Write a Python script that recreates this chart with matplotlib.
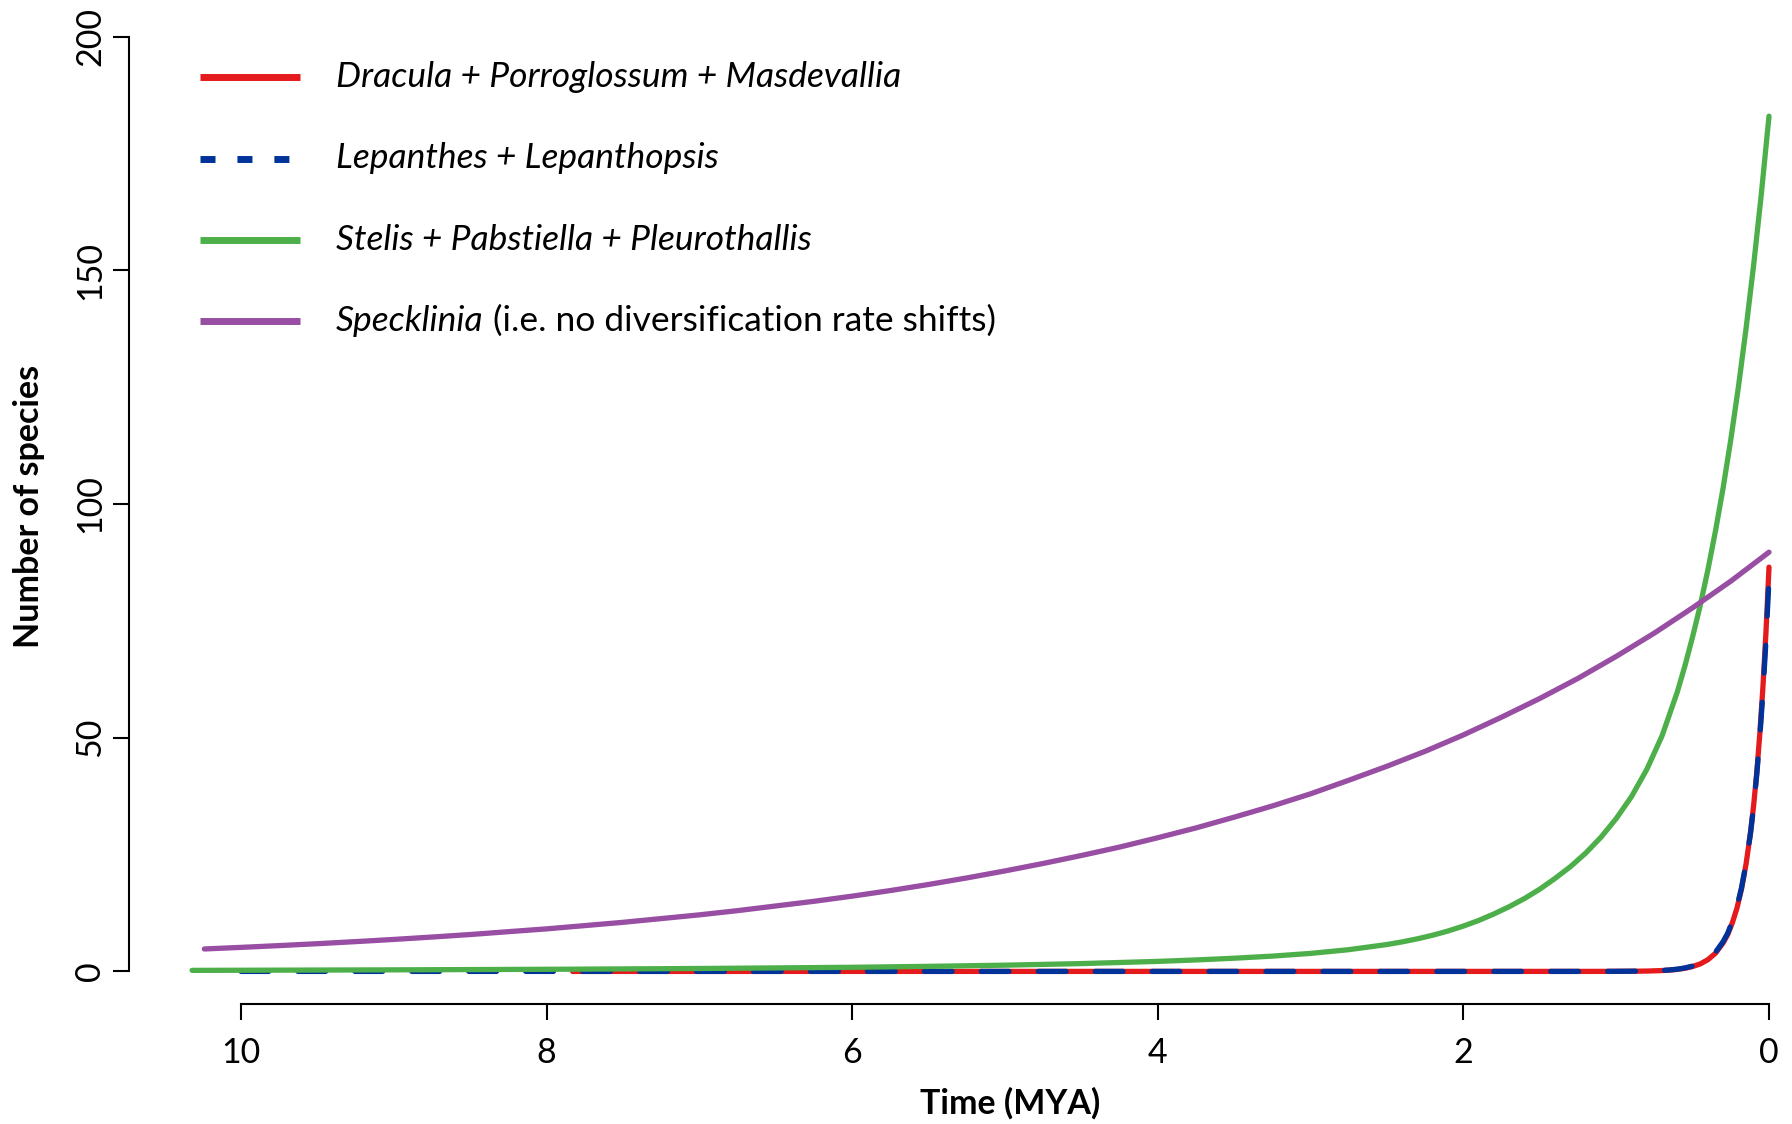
import matplotlib
matplotlib.use("Agg")
import matplotlib.pyplot as plt
from matplotlib.lines import Line2D

W, H = 1792, 1124
plt.rcParams["font.family"] = ["Lato", "DejaVu Sans"]
plt.rcParams["lines.scale_dashes"] = False

# ---- data: expected number of species through time (million years ago) ----
red_time = [7.83, 7.0, 6.0, 5.0, 4.0, 3.0, 2.0, 1.5, 1.2, 1.0, 0.9, 0.8, 0.7,
            0.65, 0.6, 0.55, 0.5, 0.45, 0.4, 0.35, 0.3, 0.27, 0.24, 0.21, 0.18,
            0.15, 0.12, 0.1, 0.08, 0.06, 0.04, 0.02, 0.0]
red_n = [0.0, 0.0, 0.0, 0.0, 0.0, 0.0, 0.0, 0.0, 0.0, 0.01, 0.03, 0.07, 0.18,
         0.28, 0.43, 0.67, 1.04, 1.6, 2.5, 3.9, 6.1, 7.9, 10.4, 13.5, 17.6,
         23.0, 29.9, 35.7, 42.6, 50.9, 60.7, 72.5, 86.5]

blue_time = [10.0, 9.0, 8.0, 7.0, 6.0, 5.0, 4.0, 3.0, 2.0, 1.5, 1.2, 1.0, 0.9,
             0.8, 0.7, 0.65, 0.6, 0.55, 0.5, 0.45, 0.4, 0.35, 0.3, 0.27, 0.24,
             0.21, 0.18, 0.15, 0.12, 0.1, 0.08, 0.06, 0.04, 0.02, 0.0]
blue_n = [0.0, 0.0, 0.0, 0.0, 0.0, 0.0, 0.0, 0.0, 0.0, 0.0, 0.0, 0.02, 0.04,
          0.09, 0.2, 0.31, 0.48, 0.74, 1.14, 1.75, 2.7, 4.1, 6.4, 8.2, 10.7,
          13.8, 17.9, 23.1, 29.9, 35.5, 42.2, 50.2, 59.6, 70.7, 84.0]

green_time = [10.32, 9.0, 8.0, 7.0, 6.0, 5.5, 5.0, 4.5, 4.0, 3.75, 3.5, 3.25,
              3.0, 2.75, 2.5, 2.4, 2.3, 2.2, 2.1, 2.0, 1.9, 1.8, 1.7, 1.6,
              1.5, 1.4, 1.3, 1.2, 1.1, 1.0, 0.9, 0.8, 0.7, 0.6, 0.55, 0.5,
              0.45, 0.4, 0.35, 0.3, 0.25, 0.2, 0.15, 0.1, 0.05, 0.0]
green_n = [0.22, 0.33, 0.45, 0.62, 0.88, 1.08, 1.33, 1.67, 2.14, 2.45, 2.82, 3.27,
           3.85, 4.65, 5.75, 6.32, 6.98, 7.75, 8.65, 9.7, 10.9, 12.3, 13.85, 15.6,
           17.6, 19.9, 22.4, 25.3, 28.7, 32.7, 37.4, 43.2, 50.4, 59.8, 65.4, 71.6,
           78.3, 85.9, 94.3, 103.5, 113.8, 125.1, 137.6, 151.3, 166.4, 183.0]

purple_time = [10.24, 10.0, 9.75, 9.5, 9.25, 9.0, 8.75, 8.5, 8.25, 8.0, 7.75,
               7.5, 7.25, 7.0, 6.75, 6.5, 6.25, 6.0, 5.75, 5.5, 5.25, 5.0,
               4.75, 4.5, 4.25, 4.0, 3.75, 3.5, 3.25, 3.0, 2.75, 2.5, 2.25,
               2.0, 1.75, 1.5, 1.25, 1.0, 0.75, 0.5, 0.25, 0.0]
purple_n = [4.8, 5.14, 5.52, 5.93, 6.37, 6.84, 7.35, 7.89, 8.5, 9.1, 9.8,
            10.5, 11.3, 12.1, 13.0, 14.0, 15.0, 16.1, 17.3, 18.6, 20.0, 21.5,
            23.1, 24.8, 26.6, 28.6, 30.7, 33.0, 35.4, 38.0, 40.9, 43.9, 47.1,
            50.6, 54.4, 58.4, 62.7, 67.4, 72.4, 77.8, 83.5, 89.7]

series_labels = ["Dracula + Porroglossum + Masdevallia",
                 "Lepanthes + Lepanthopsis",
                 "Stelis + Pabstiella + Pleurothallis",
                 "Specklinia"]
specklinia_note = " (i.e. no diversification rate shifts)"

x_ticks = [10, 8, 6, 4, 2, 0]
y_ticks = [0, 50, 100, 150, 200]

RED, BLUE, GREEN, PURPLE = "#E41A1C", "#003399", "#4DAF4A", "#984EA3"
LW = 3.8
DASH = (0, (20.0, 21.0))

fig = plt.figure(figsize=(W / 100, H / 100), dpi=100)
ax = fig.add_axes([129 / W, (H - 1004) / H, (W - 129) / W, 1004 / H])
ax.set_xlim(10.733, -0.1505)
ax.set_ylim(-6.976, 207.85)

common = dict(lw=LW, solid_capstyle="round", solid_joinstyle="round",
              dash_capstyle="round", dash_joinstyle="round", clip_on=False)
ax.plot(red_time, red_n, color=RED, **common)
ax.plot(blue_time, blue_n, color=BLUE, ls=DASH, **common)
ax.plot(green_time, green_n, color=GREEN, **common)
ax.plot(purple_time, purple_n, color=PURPLE, **common)

# R-style open axes
for side in ("top", "right"):
    ax.spines[side].set_visible(False)
ax.spines["left"].set_bounds(0, 200)
ax.spines["bottom"].set_bounds(0, 10)
for side in ("left", "bottom"):
    ax.spines[side].set_linewidth(1.5)
ax.set_xticks(x_ticks)
ax.set_xticklabels([str(t) for t in x_ticks])
ax.set_yticks(y_ticks)
ax.set_yticklabels([str(t) for t in y_ticks])
ax.tick_params(direction="out", length=11.5, width=1.5, labelsize=24.5)
ax.tick_params(axis="x", pad=12)
ax.tick_params(axis="y", pad=5)
for lab in ax.get_yticklabels():
    lab.set_rotation(90)
    lab.set_va("center")
    lab.set_ha("right")

ax.set_xlabel("Time (MYA)", fontsize=24.5, fontweight="bold")
ax.xaxis.label.set_va("center")
ax.xaxis.set_label_coords((1009.7 - 129) / 1663, (1004 - 1103) / 1004)
ax.set_ylabel("Number of species", fontsize=24.5, fontweight="bold")
ax.yaxis.label.set_va("center")
ax.yaxis.label.set_ha("center")
ax.yaxis.set_label_coords((28.6 - 129) / 1663, (1004 - 506) / 1004)


def fx(x):
    return x / W


def fy(y):
    return 1 - y / H


# legend
legend_y = [77, 158.5, 240, 321]
legend_styles = [dict(color=RED), dict(color=BLUE, ls=(0, (10.8, 15.8))),
                 dict(color=GREEN), dict(color=PURPLE)]
for y, style, label in zip(legend_y, legend_styles, series_labels):
    fig.add_artist(Line2D([fx(200), fx(300)], [fy(y), fy(y)], lw=5.0,
                          solid_capstyle="butt", dash_capstyle="butt",
                          transform=fig.transFigure, **style))
    t = fig.text(fx(336), fy(y), label, fontsize=25.5, style="italic",
                 va="center", ha="left")
ax.annotate(specklinia_note, xy=(1, 0), xycoords=t, fontsize=25.5,
            va="bottom", ha="left", annotation_clip=False)

fig.savefig("out.png", dpi=100)
